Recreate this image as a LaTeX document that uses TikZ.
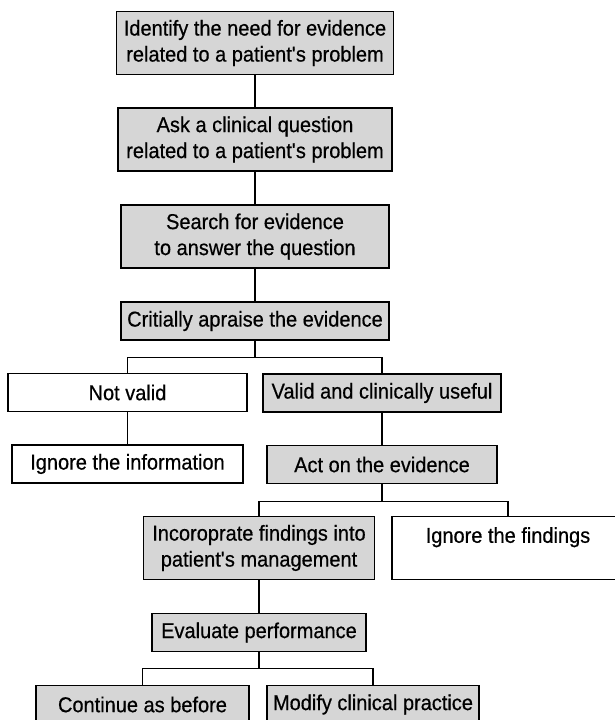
\documentclass[tikz,border=0pt]{standalone}
\usepackage{fontspec}
\setmainfont{Liberation Sans}[FakeBold=0.5,FakeStretch=0.93]
\usetikzlibrary{calc}
\definecolor{boxgray}{gray}{0.84}
\newcommand{\q}{\textquotesingle}

\begin{document}
\begin{tikzpicture}[
        x=1pt,y=-1pt,
        every node/.style={font=\fontsize{21.5}{26}\selectfont},
        item/.style={rectangle,draw=black,line width=1.4pt,fill=boxgray,
                     align=center,inner sep=0pt,minimum height=38pt},
        blank/.style={item,fill=white},
        tall/.style={minimum height=63pt},
        link/.style={line width=1.2pt}
      ]
      \useasboundingbox (0,0) rectangle (615,720);
      \clip (0,0) rectangle (615,720);
      % main column
      \node(identify)[item,tall,minimum width=277pt] at (255,43) {Identify the need for evidence\\related to a patient\q s problem};
      \node(ask)[item,tall,minimum width=274pt] at (255,139.5) {Ask a clinical question\\related to a patient\q s problem};
      \node(search)[item,tall,minimum width=268pt] at (255,236.5) {Search for evidence\\to answer the question};
      \node(apraise)[item,minimum width=268pt] at (255,321) {Critially apraise the evidence};
      % first split
      \node(notvalid)[blank,minimum width=239pt] at (127.5,392.5) {Not valid};
      \node(valid)[item,minimum width=238pt] at (382,393) {Valid and clinically useful};
      \node(ignoreinfo)[blank,minimum width=231pt] at (127.5,464) {Ignore the information};
      \node(act)[item,minimum width=230pt] at (382,464.5) {Act on the evidence};
      % second split
      \node(incorp)[item,tall,minimum width=231pt] at (259,548) {Incoroprate findings into\\patient\q s management};
      \node(ignorefind)[blank,tall,minimum width=232pt] at (508,548) {Ignore the findings\\\mbox{}};
      \node(evaluate)[item,minimum width=214pt] at (259,632.5) {Evaluate performance};
      % third split
      \node(continue)[item,minimum width=213pt] at (142.5,704.5) {Continue as before};
      \node(modify)[item,minimum width=212pt] at (373,704.5) {Modify clinical practice};

      \draw[link] (identify.south) -- (ask.north);
      \draw[link] (ask.south) -- (search.north);
      \draw[link] (search.south) -- (apraise.north);
      \draw[link] (apraise.south) -- ++(0,17) coordinate (split1);
      \draw[link] (notvalid.north) |- (split1) -| (valid.north);
      \draw[link] (notvalid.south) -- (ignoreinfo.north);
      \draw[link] (valid.south) -- (act.north);
      \draw[link] (act.south) -- ++(0,17) coordinate (split2);
      \draw[link] (incorp.north) |- (split2) -| (ignorefind.north);
      \draw[link] (incorp.south) -- (evaluate.north);
      \draw[link] (evaluate.south) -- ++(0,16) coordinate (split3);
      \draw[link] (continue.north) |- (split3) -| (modify.north);
    \end{tikzpicture}
\end{document}
